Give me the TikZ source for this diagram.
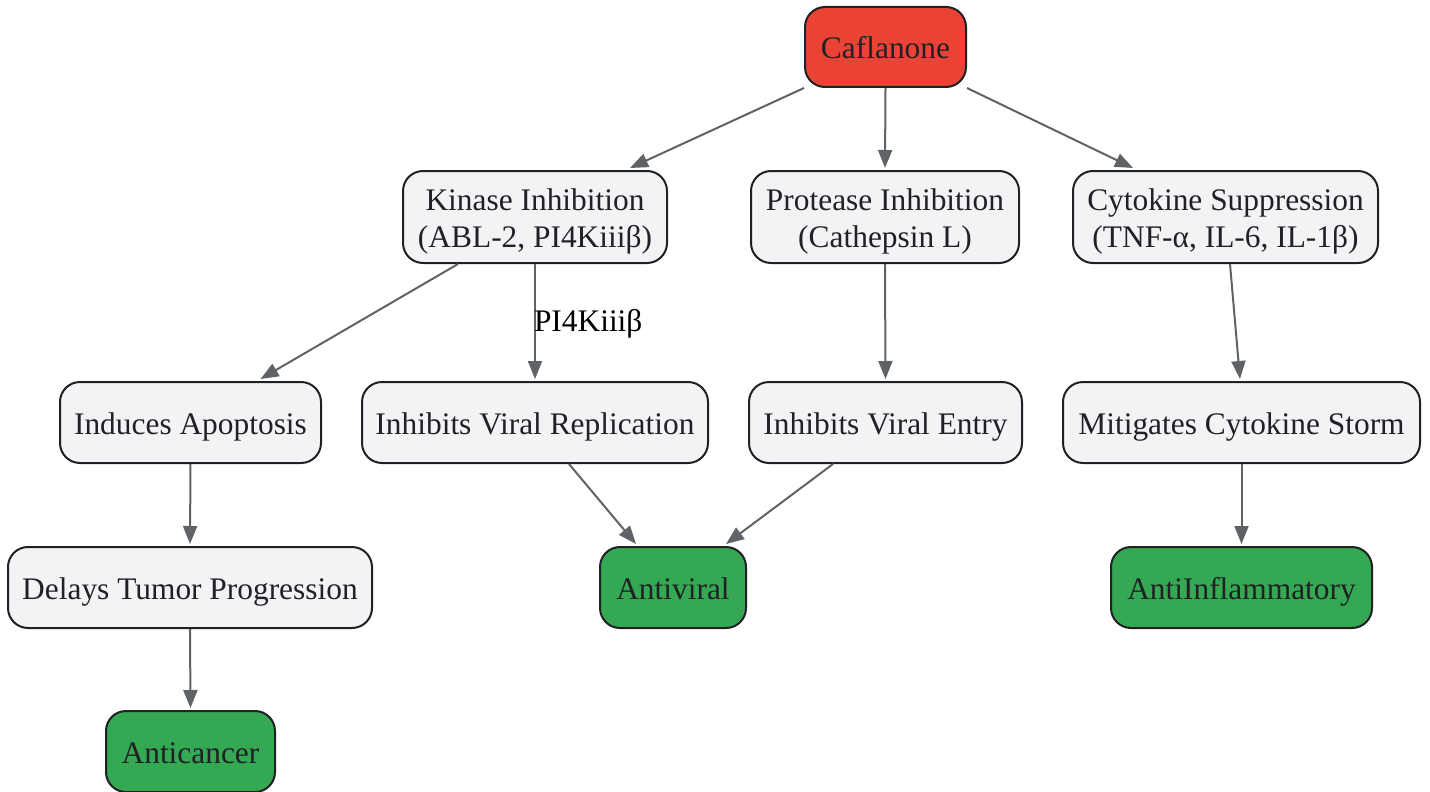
\documentclass[tikz,border=0pt]{standalone}
\usepackage{fontspec}
\setmainfont{Liberation Serif}
\usetikzlibrary{arrows.meta,calc}
\definecolor{redf}{HTML}{EA4335}
\definecolor{greenf}{HTML}{34A853}
\definecolor{grayf}{HTML}{F1F3F4}
\definecolor{bord}{HTML}{202124}
\definecolor{edgec}{HTML}{5F6368}
\definecolor{txt}{HTML}{202124}
\begin{document}
\begin{tikzpicture}[x=1pt,y=-1pt,
 box/.style={draw=bord, line width=2pt, rounded corners=20pt, inner sep=0pt, align=center, text=txt, font=\fontsize{31.4}{37}\selectfont},
 oneline/.style={text height=30pt, text depth=7pt, minimum height=81},
 twoline/.style={text height=67pt, text depth=7pt, minimum height=92},
 proc/.style={box, fill=grayf},
 startbox/.style={box, fill=redf},
 outc/.style={box, fill=greenf},
 conn/.style={draw=edgec, line width=2pt, -{Triangle[length=18pt,width=14pt]}},
 lbl/.style={font=\fontsize{31.4}{37}\selectfont, text=black, inner sep=0pt, anchor=west}]
\useasboundingbox (0,0) rectangle (1430,792);
\node[startbox, oneline, minimum width=161, minimum height=80] (caf) at (885.5,47) {Caflanone};
\node[proc, twoline, minimum width=264] (kin) at (535,217) {Kinase Inhibition\\(ABL-2, PI4Kiiiβ)};
\node[proc, twoline, minimum width=268] (pro) at (885,217) {Protease Inhibition\\(Cathepsin L)};
\node[proc, twoline, minimum width=305] (cyt) at (1225.5,217) {Cytokine Suppression\\(TNF-α, IL-6, IL-1β)};
\node[proc, oneline, minimum width=261] (apo) at (190.5,422.5) {Induces Apoptosis};
\node[proc, oneline, minimum width=346] (rep) at (535,422.5) {Inhibits Viral Replication};
\node[proc, oneline, minimum width=273] (ent) at (885.5,422.5) {Inhibits Viral Entry};
\node[proc, oneline, minimum width=357] (sto) at (1241.5,422.5) {Mitigates Cytokine Storm};
\node[proc, oneline, minimum width=364] (tum) at (190,587.5) {Delays Tumor Progression};
\node[outc, oneline, minimum width=146] (av) at (673,587.5) {Antiviral};
\node[outc, oneline, minimum width=261] (ai) at (1241.5,587.5) {AntiInflammatory};
\node[outc, oneline, minimum width=169] (ac) at (190.5,751.5) {Anticancer};
\draw[conn] (caf.south west) -- ($(kin.north)+(95,-2)$);
\draw[conn] (caf.south) -- ($(pro.north)+(0,-2)$);
\draw[conn] (caf.south east) -- ($(cyt.north)+(-92.5,-2)$);
\draw[conn] ($(kin.south)+(-77,0)$) -- ($(apo.north)+(70,-2)$);
\draw[conn] (kin.south) -- ($(rep.north)+(0,-2)$) node[midway, lbl, xshift=-2pt, yshift=-2pt] (lab) {PI4Kiiiβ};
\draw[conn] (pro.south) -- ($(ent.north)+(0,-2)$);
\draw[conn] ($(cyt.south)+(4.5,0)$) -- ($(sto.north)+(-1.5,-2)$);
\draw[conn] (apo.south) -- ($(tum.north)+(0,-2)$);
\draw[conn] ($(rep.south)+(34,0)$) -- ($(av.north)+(-37,-2)$);
\draw[conn] ($(ent.south)+(-52.5,0)$) -- ($(av.north)+(53,-2)$);
\draw[conn] (sto.south) -- ($(ai.north)+(0,-2)$);
\draw[conn] (tum.south) -- ($(ac.north)+(0,-2)$);
\end{tikzpicture}
\end{document}
